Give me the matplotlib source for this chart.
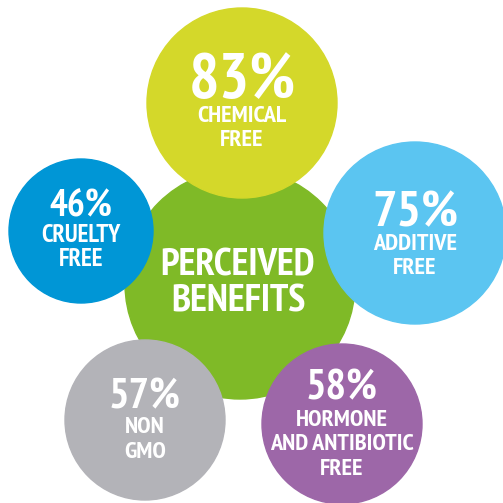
import matplotlib
matplotlib.use("Agg")
import matplotlib.pyplot as plt
from matplotlib.patches import Circle

# data
percents = ["83%", "46%", "75%", "57%", "58%"]
labels = ["CHEMICAL\nFREE", "CRUELTY\nFREE", "ADDITIVE\nFREE", "NON\nGMO",
          "HORMONE\nAND ANTIBIOTIC\nFREE"]
center_label = "PERCEIVED\nBENEFITS"

# layout in pixels (x, y, radius) and text baselines
center_pos = (240, 284, 115)
bubble_pos = [(242, 103, 95), (81, 231, 72), (415, 233, 91), (145, 420, 80), (342, 424, 80)]
colors = ["#d4d82a", "#0096d6", "#5bc5f1", "#b3b3b8", "#9d67a8"]
pct_base = [98, 216, 226, 408, 399]
pct_size = [46, 27, 37, 31, 31]
lab_base = [122, 242, 250, 433, 426]
lab_size = [17.5, 18, 17.5, 17.5, 17.5]
lab_step = 24.5

plt.rcParams['font.family'] = ['PT Sans Narrow', 'DejaVu Sans']

fig = plt.figure(figsize=(5.03, 5.03), dpi=100)
ax = fig.add_axes([0, 0, 1, 1])
ax.set_xlim(0, 503)
ax.set_ylim(503, 0)
ax.set_aspect('equal')
ax.axis('off')

cx, cy, cr = center_pos
ax.add_patch(Circle((cx, cy), cr, color="#7fba27", zorder=1))
for j, line in enumerate(center_label.split("\n")):
    ax.text(cx - 2, 275 + j * 37, line, ha='center', va='baseline', color='white',
            fontsize=28, fontweight='bold', zorder=3)

for i in range(len(percents)):
    x, y, r = bubble_pos[i]
    ax.add_patch(Circle((x, y), r, color=colors[i], zorder=2))
    ax.text(x, pct_base[i], percents[i], ha='center', va='baseline', color='white',
            fontsize=pct_size[i], fontweight='bold', zorder=3)
    for j, line in enumerate(labels[i].split("\n")):
        ax.text(x, lab_base[i] + j * lab_step, line, ha='center', va='baseline',
                color='white', fontsize=lab_size[i], fontweight='bold', zorder=3)

fig.savefig("out.png", dpi=100, facecolor='white')
